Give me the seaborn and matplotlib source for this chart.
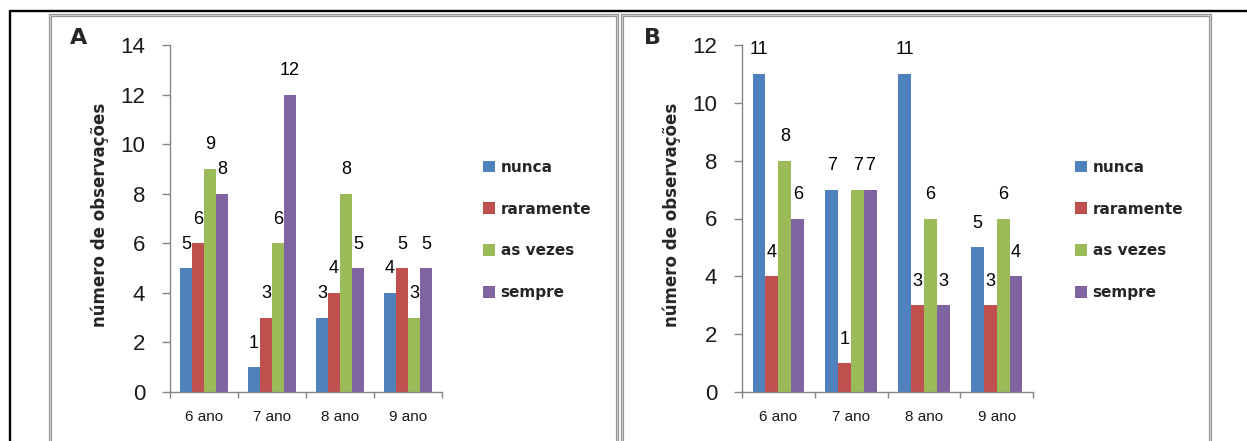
import numpy as np
import pandas as pd
import seaborn as sns
import matplotlib.pyplot as plt
from matplotlib.lines import Line2D
from matplotlib.patches import Rectangle

# Categories and series
anos = ["6 ano", "7 ano", "8 ano", "9 ano"]
frequencias = ["nunca", "raramente", "as vezes", "sempre"]
cores = ["#4F81BD", "#C0504D", "#9BBB59", "#8064A2"]

# Panel A
a_nunca = [5, 1, 3, 4]
a_raramente = [6, 3, 4, 5]
a_as_vezes = [9, 6, 8, 3]
a_sempre = [8, 12, 5, 5]

# Panel B
b_nunca = [11, 7, 11, 5]
b_raramente = [4, 1, 3, 3]
b_as_vezes = [8, 7, 6, 6]
b_sempre = [6, 7, 3, 4]

sns.set_theme(style="white")
plt.rcParams["font.family"] = ["Liberation Sans", "DejaVu Sans"]

W, H = 1247, 441
fig = plt.figure(figsize=(W / 100, H / 100), dpi=100)


def fx(px):
    return px / W


def fy(py):
    return 1 - py / H


def rect(x0, y0, x1, y1):
    return [fx(x0), fy(y1), (x1 - x0) / W, (y1 - y0) / H]


# outer frame lines
fig.add_artist(Line2D([fx(10), fx(1247)], [fy(11), fy(11)], color="black", lw=1.7))
fig.add_artist(Line2D([fx(10), fx(10)], [fy(11), fy(445)], color="black", lw=1.7))

# panel borders (double grey line)
for x0, x1 in [(50, 617), (622, 1210)]:
    fig.add_artist(Rectangle((fx(x0), fy(470)), (x1 - x0) / W, (470 - 15) / H,
                             transform=fig.transFigure, fill=False,
                             edgecolor="#959595", lw=2.3))
    fig.add_artist(Rectangle((fx(x0), fy(470)), (x1 - x0) / W, (470 - 15) / H,
                             transform=fig.transFigure, fill=False,
                             edgecolor="#dadada", lw=0.6))

GRID_GREY = "#868686"


def painel(ax, valores, ymax, letra, letra_x, ylabel_x, leg_x):
    df = pd.DataFrame({
        "ano": np.tile(anos, len(frequencias)),
        "freq": np.repeat(frequencias, len(anos)),
        "valor": np.concatenate(valores),
    })
    sns.barplot(data=df, x="ano", y="valor", hue="freq", order=anos,
                hue_order=frequencias, palette=cores, width=0.71, gap=0,
                saturation=1, edgecolor="none", linewidth=0,
                errorbar=None, ax=ax)
    ax.set_xlim(-0.5, 3.5)
    ax.set_ylim(0, ymax)
    ax.set_yticks(range(0, ymax + 1, 2))
    ax.set_xlabel("")
    ax.set_ylabel("")
    for s in ["top", "right"]:
        ax.spines[s].set_visible(False)
    for s in ["left", "bottom"]:
        ax.spines[s].set_color(GRID_GREY)
        ax.spines[s].set_linewidth(1.0)

    ax.tick_params(axis="y", which="major", direction="out", length=5.8,
                   width=1, color=GRID_GREY, labelsize=16, pad=12,
                   labelcolor="#1a1a1a", left=True)
    ax.set_xticks(range(len(anos)))
    ax.set_xticklabels(anos)
    ax.set_xticks(np.arange(-0.5, len(anos), 1.0), minor=True)
    ax.tick_params(axis="x", which="major", length=0, labelsize=11, pad=13,
                   labelcolor="#1a1a1a")
    ax.tick_params(axis="x", which="minor", direction="out", length=4.3,
                   width=1, color=GRID_GREY, bottom=True)

    # value labels above each bar
    for cont, vals in zip(ax.containers, valores):
        for bar, v in zip(cont, vals):
            ax.annotate(str(v), (bar.get_x() + bar.get_width() / 2, v),
                        xytext=(0, 24), textcoords="offset pixels",
                        ha="center", va="center", fontsize=13,
                        color="black", annotation_clip=False)

    handles, labels = ax.get_legend_handles_labels()
    if ax.get_legend() is not None:
        ax.get_legend().remove()
    fig.legend(handles, labels, loc="center left",
               bbox_to_anchor=(fx(leg_x), fy(230)), frameon=False,
               borderpad=0, borderaxespad=0, handlelength=0.8,
               handleheight=0.8, handletextpad=0.35, labelspacing=1.75,
               prop=dict(family="DejaVu Sans", weight="bold", size=11))

    fig.text(fx(ylabel_x), fy(215), "número de observações", rotation=90,
             ha="center", va="center", fontsize=12, fontweight="bold",
             family="DejaVu Sans")
    fig.text(fx(letra_x), fy(38), letra, ha="center", va="center",
             fontsize=16, fontweight="bold", family="DejaVu Sans")


axA = fig.add_axes(rect(170, 45, 442, 392))
axB = fig.add_axes(rect(742, 45, 1033, 392))

painel(axA, [a_nunca, a_raramente, a_as_vezes, a_sempre], 14, "A", 79, 100, 483)
painel(axB, [b_nunca, b_raramente, b_as_vezes, b_sempre], 12, "B", 652, 672, 1075)

fig.savefig("out.png", dpi=100)
